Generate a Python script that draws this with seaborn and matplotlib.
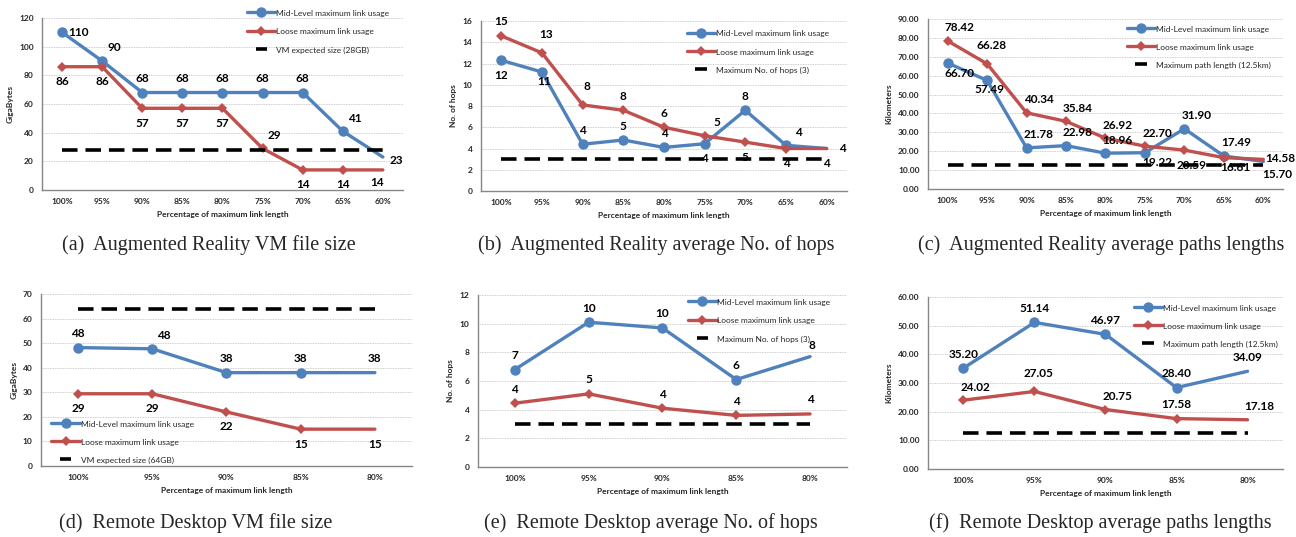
import matplotlib
matplotlib.use('Agg')
import matplotlib.pyplot as plt
import seaborn as sns
from matplotlib.legend_handler import HandlerLine2D
from matplotlib.ticker import FormatStrFormatter, MultipleLocator, FixedLocator

# ---- data ----
pct_top = ['100%', '95%', '90%', '85%', '80%', '75%', '70%', '65%', '60%']
pct_bottom = ['100%', '95%', '90%', '85%', '80%']

ar_size_mid = [110, 90, 68, 68, 68, 68, 68, 41, 23]
ar_size_loose = [86, 86, 57, 57, 57, 29, 14, 14, 14]
ar_size_limit = 28

ar_hops_mid = [12.3, 11.2, 4.4, 4.8, 4.1, 4.45, 7.6, 4.3, 4.0]
ar_hops_loose = [14.6, 13.0, 8.1, 7.6, 6.0, 5.2, 4.6, 4.0, 4.0]
ar_hops_limit = 3

ar_path_mid = [66.70, 57.49, 21.78, 22.98, 18.96, 19.22, 31.90, 17.49, 14.58]
ar_path_loose = [78.42, 66.28, 40.34, 35.84, 26.92, 22.70, 20.59, 16.61, 15.70]
ar_path_limit = 12.5

rd_size_mid = [48.2, 47.7, 38, 38, 38]
rd_size_loose = [29.4, 29.4, 22, 15, 15]
rd_size_limit = 64

rd_hops_mid = [6.8, 10.1, 9.7, 6.1, 7.7]
rd_hops_loose = [4.45, 5.1, 4.1, 3.6, 3.7]
rd_hops_limit = 3

rd_path_mid = [35.20, 51.14, 46.97, 28.40, 34.09]
rd_path_loose = [24.02, 27.05, 20.75, 17.58, 17.18]
rd_path_limit = 12.5

mid_name = 'Mid-Level maximum link usage'
loose_name = 'Loose maximum link usage'

BLUE = '#4F81BD'
RED = '#C0504D'
GRAY = '#868686'

sns.set_theme(style='white')
plt.rcParams['font.family'] = ['Lato', 'DejaVu Sans']

# label offsets in pixels
OFF = {'a': (0, 14), 'a2': (4, 18), 'a3': (2, 11), 'b': (0, -15), 'b2': (2, -9),
       'b3': (14, -15), 'bs': (7, -15), 'r': (16, 0), 'r2': (17, 3),
       'ar': (12, 13), 'br': (12, -10), 'bl': (-6, -13), 'rb': (13, -3)}


class SideMarker(HandlerLine2D):
    """legend handle with the marker at the left end, like Excel"""
    def __init__(self, start=0.0, stop=1.0, **kw):
        super().__init__(**kw)
        self.start, self.stop = start, stop

    def get_xdata(self, legend, xdescent, ydescent, width, height, fontsize):
        x0 = -xdescent + self.start * width
        x1 = -xdescent + self.stop * width
        return [x0, x1], [x0]


def panel(rect, cats, mid, loose, limit, limit_name, ylabel, ymax, ystep, yfmt,
          lab_fmt, mid_pos, loose_pos, leg_loc, leg_anchor, caption, cap_xy):
    ax = fig.add_axes(rect)
    n = len(cats)
    x = list(range(n))
    sns.lineplot(x=x, y=mid, ax=ax, color=BLUE, lw=2.4, marker='o', markersize=7.5,
                 markeredgewidth=0, markevery=list(range(n - 1)), label=mid_name)
    sns.lineplot(x=x, y=loose, ax=ax, color=RED, lw=2.4, marker='D', markersize=5.5,
                 markeredgewidth=0, markevery=list(range(n - 1)), label=loose_name)
    sns.lineplot(x=x, y=[limit] * n, ax=ax, color='black', lw=2.6,
                 linestyle=(0, (4.3, 2.2)), dash_capstyle='butt', label=limit_name)
    for vals, pos in ((mid, mid_pos), (loose, loose_pos)):
        for i, v in enumerate(vals):
            ax.annotate(lab_fmt.format(v), (i, v), xytext=OFF[pos[i]],
                        textcoords='offset pixels', ha='center', va='center',
                        fontsize=8.5, fontweight='bold', color='black')
    ax.set_xlim(-0.5, n - 0.5)
    ax.set_ylim(0, ymax)
    ax.set_xticks(x)
    ax.set_xticklabels(cats)
    ax.xaxis.set_minor_locator(FixedLocator([i + 0.5 for i in range(n)]))
    ax.yaxis.set_major_locator(MultipleLocator(ystep))
    ax.yaxis.set_major_formatter(FormatStrFormatter(yfmt))
    ax.tick_params(axis='x', which='major', length=0, labelsize=6, pad=6)
    ax.tick_params(axis='x', which='minor', length=3, width=0.8, color=GRAY, direction='out')
    ax.tick_params(axis='y', length=3, width=0.8, color=GRAY, direction='out', labelsize=6, pad=3)
    for t in ax.get_xticklabels() + ax.get_yticklabels():
        t.set_fontweight('bold')
    ax.yaxis.grid(True, color='#BDBDBD', linestyle=(0, (1, 1)), lw=0.6)
    ax.set_axisbelow(True)
    for s in ('top', 'right'):
        ax.spines[s].set_visible(False)
    for s in ('left', 'bottom'):
        ax.spines[s].set_color(GRAY)
        ax.spines[s].set_linewidth(1.0)
    ax.set_xlabel('Percentage of maximum link length', fontsize=6, fontweight='bold', labelpad=4)
    ax.set_ylabel(ylabel, fontsize=6, fontweight='bold', labelpad=4)
    h, l = ax.get_legend_handles_labels()
    ax.legend(h, l, loc=leg_loc, bbox_to_anchor=leg_anchor, frameon=False, fontsize=6,
              handlelength=3.4, handleheight=1.5, handletextpad=0.1, labelspacing=0.95,
              borderpad=0, borderaxespad=0,
              handler_map={h[0]: SideMarker(), h[1]: SideMarker(),
                           h[2]: SideMarker(0.3, 0.7)})
    fig.text(cap_xy[0], cap_xy[1], caption, ha='center', va='center', fontsize=14.5,
             family='Liberation Serif')
    return ax


fig = plt.figure(figsize=(12.96, 5.37), dpi=100)

panel([0.0324, 0.6462, 0.2785, 0.3203], pct_top, ar_size_mid, ar_size_loose, ar_size_limit,
      'VM expected size (28GB)', 'GigaBytes', 120, 20, '%d', '{:.0f}',
      ['r', 'ar', 'a', 'a', 'a', 'a', 'a', 'ar', 'rb'],
      ['b', 'b', 'b', 'b', 'b', 'ar', 'b', 'b', 'bl'],
      'upper left', (0.568, 1.055), '(a)  Augmented Reality VM file size', (209 / 1296, 1 - 245 / 537))

panel([0.3711, 0.6443, 0.2824, 0.3166], pct_top, ar_hops_mid, ar_hops_loose, ar_hops_limit,
      'Maximum No. of hops (3)', 'No. of hops', 16, 2, '%d', '{:.0f}',
      ['b', 'b2', 'a', 'a', 'a', 'b', 'a', 'ar', 'r'],
      ['a', 'a2', 'a2', 'a', 'a', 'ar', 'b', 'b', 'b'],
      'upper left', (0.563, 0.955), '(b)  Augmented Reality average No. of hops', (656 / 1296, 1 - 245 / 537))

panel([0.7160, 0.6480, 0.2740, 0.3166], pct_top, ar_path_mid, ar_path_loose, ar_path_limit,
      'Maximum path length (12.5km)', 'Kilometers', 90, 10, '%.2f', '{:.2f}',
      ['br', 'b2', 'ar', 'ar', 'ar', 'br', 'ar', 'ar', 'r2'],
      ['ar', 'a2', 'ar', 'ar', 'ar', 'ar', 'bs', 'br', 'b3'],
      'upper left', (0.56, 0.97), '(c)  Augmented Reality average paths lengths', (1101 / 1296, 1 - 245 / 537))

panel([0.0316, 0.1322, 0.2863, 0.3203], pct_bottom, rd_size_mid, rd_size_loose, rd_size_limit,
      'VM expected size (64GB)', 'GigaBytes', 70, 10, '%d', '{:.0f}',
      ['a', 'ar', 'a', 'a', 'a'],
      ['b', 'b', 'b', 'b', 'b'],
      'lower left', (0.028, 0.005), '(d)  Remote Desktop VM file size', (196 / 1296, 1 - 523 / 537))

panel([0.3688, 0.1304, 0.2847, 0.3203], pct_bottom, rd_hops_mid, rd_hops_loose, rd_hops_limit,
      'Maximum No. of hops (3)', 'No. of hops', 12, 2, '%d', '{:.0f}',
      ['a', 'a', 'a', 'a', 'a3'],
      ['a', 'a', 'a', 'a', 'a'],
      'upper left', (0.57, 0.985), '(e)  Remote Desktop average No. of hops', (651 / 1296, 1 - 523 / 537))

panel([0.7160, 0.1266, 0.2740, 0.3203], pct_bottom, rd_path_mid, rd_path_loose, rd_path_limit,
      'Maximum path length (12.5km)', 'Kilometers', 60, 10, '%.2f', '{:.2f}',
      ['a', 'a', 'a', 'a', 'a'],
      ['ar', 'a2', 'ar', 'a', 'ar'],
      'upper left', (0.58, 0.965), '(f)  Remote Desktop average paths lengths', (1100 / 1296, 1 - 523 / 537))

fig.savefig('out.png', dpi=100)
